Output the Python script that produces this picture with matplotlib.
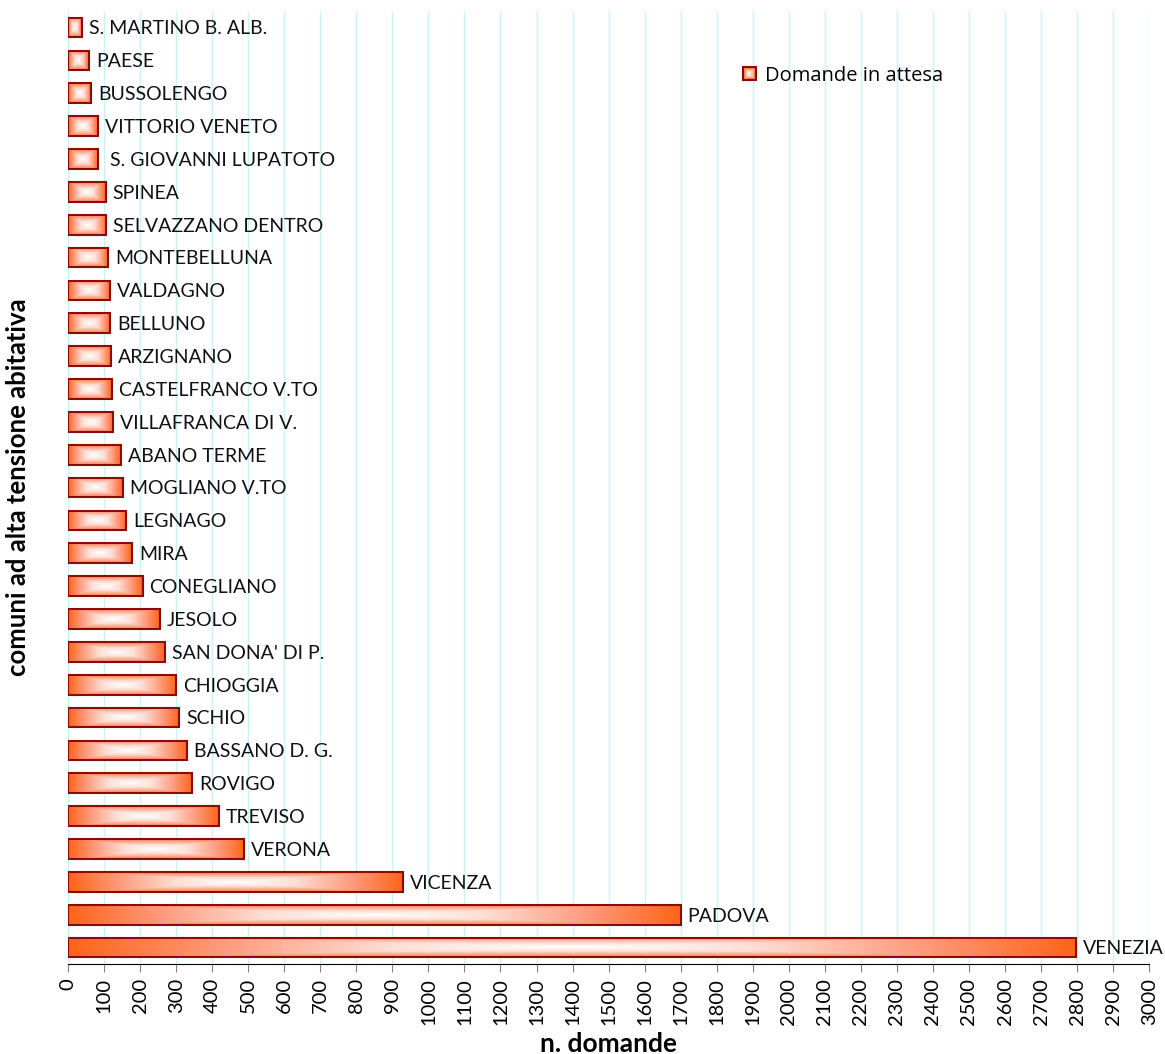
import numpy as np
import matplotlib
matplotlib.use("Agg")
import matplotlib.pyplot as plt
from matplotlib.colors import LinearSegmentedColormap
from matplotlib.patches import Rectangle
from matplotlib.legend_handler import HandlerBase

plt.rcParams['font.family'] = ['Lato', 'DejaVu Sans']

# comuni, top to bottom as in the chart
comuni = ["S. MARTINO B. ALB.", "PAESE", "BUSSOLENGO", "VITTORIO VENETO",
          " S. GIOVANNI LUPATOTO", "SPINEA", "SELVAZZANO DENTRO", "MONTEBELLUNA",
          "VALDAGNO", "BELLUNO", "ARZIGNANO", "CASTELFRANCO V.TO",
          "VILLAFRANCA DI V.", "ABANO TERME", "MOGLIANO V.TO", "LEGNAGO", "MIRA",
          "CONEGLIANO", "JESOLO", "SAN DONA' DI P.", "CHIOGGIA", "SCHIO",
          "BASSANO D. G.", "ROVIGO", "TREVISO", "VERONA", "VICENZA", "PADOVA",
          "VENEZIA"]
domande = [38, 58, 65, 82, 82, 105, 106, 111, 117, 117, 120, 121, 125, 146,
           152, 161, 177, 207, 254, 269, 300, 309, 331, 345, 418, 489, 930,
           1700, 2798]
xticks = list(range(0, 3001, 100))

EDGE = "#8b0a0a"
cmap = LinearSegmentedColormap.from_list(
    "box", [(0.0, "#ffffff"), (0.35, "#fde0d6"), (0.7, "#fd9a7c"), (1.0, "#ff6419")])

# box (path) gradient: white centre, orange edges
u = np.linspace(-1, 1, 200)
v = np.linspace(-1, 1, 60)
U, V = np.meshgrid(u, v)
grad = np.maximum(np.abs(U), np.abs(V) * 0.85)


class GradHandler(HandlerBase):
    def create_artists(self, legend, orig, xd, yd, w, h, fontsize, trans):
        s = min(w, h) * 0.9
        x0 = xd + (w - s) / 2
        y0 = yd + (h - s) / 2
        arts = []
        n = 6
        for i in range(n):
            f = i / n
            d = s * f / 2
            r = Rectangle((x0 + d, y0 + d), s - 2 * d, s - 2 * d,
                          facecolor=cmap(1 - f), edgecolor='none', transform=trans)
            arts.append(r)
        arts.append(Rectangle((x0, y0), s, s, facecolor='none', edgecolor=EDGE,
                              lw=1.5, transform=trans))
        return arts


fig = plt.figure(figsize=(11.65, 10.54), dpi=100)
ax = fig.add_axes([0.0584, 0.0854, 0.928, 0.904])

ypos = np.arange(len(comuni))
bars = ax.barh(ypos, domande, height=0.6, facecolor='none', edgecolor=EDGE,
               linewidth=1.5, zorder=3)
for p in bars.patches:
    x0, y0 = p.get_x(), p.get_y()
    im = ax.imshow(grad, cmap=cmap, vmin=0, vmax=1, aspect='auto',
                   extent=(x0, x0 + p.get_width(), y0, y0 + p.get_height()),
                   interpolation='bilinear', zorder=2)
    im.set_clip_path(p)

for y, val, name in zip(ypos, domande, comuni):
    ax.annotate(name, (val, y), xytext=(5, -1), textcoords='offset points',
                ha='left', va='center', fontsize=14, color='#111111')

ax.set_xlim(0, 3000)
ax.set_ylim(len(comuni) - 0.5, -0.5)
ax.set_xticks(xticks)
ax.set_xticklabels([str(t) for t in xticks], rotation=90, fontsize=14.5)
ax.set_yticks([])
ax.grid(axis='x', color='#c8f6f6', lw=1, zorder=0)
ax.set_axisbelow(True)
for s in ['top', 'right', 'left']:
    ax.spines[s].set_visible(False)
ax.spines['bottom'].set_color('#000000')
ax.tick_params(axis='x', length=6, color='#808080', pad=4)

ax.set_xlabel("n. domande", fontsize=19, fontweight='bold')
ax.xaxis.set_label_coords(0.5, -0.071)
ax.set_ylabel("comuni ad alta tensione abitativa", fontsize=18.5, fontweight='bold')
ax.yaxis.set_label_coords(-0.035, 0.5)

proxy = Rectangle((0, 0), 1, 1)
leg = ax.legend([proxy], ["Domande in attesa"], handler_map={Rectangle: GradHandler()},
                loc='upper left', bbox_to_anchor=(0.606, 0.962), frameon=False,
                prop={'family': 'Open Sans', 'size': 14.5},
                handlelength=0.8, handletextpad=0.4)

fig.savefig("out.png", dpi=100)
